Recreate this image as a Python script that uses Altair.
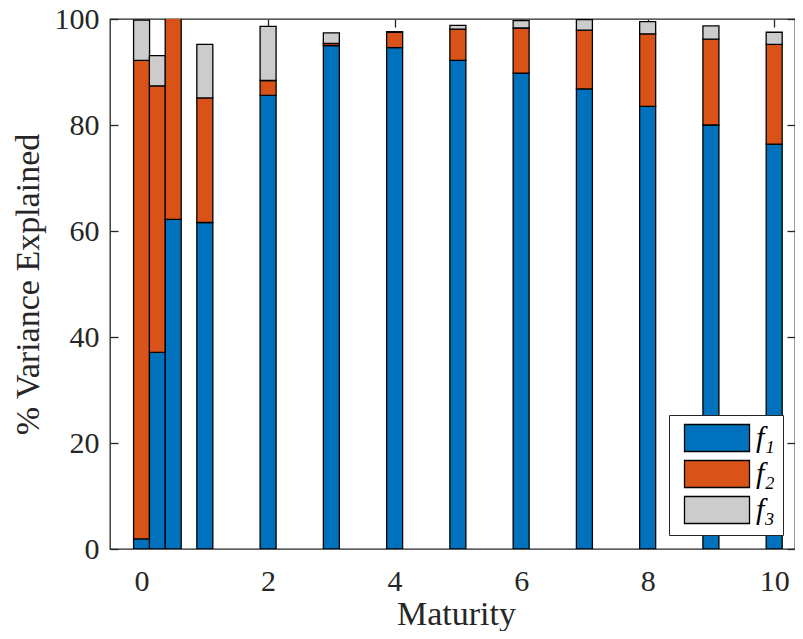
import altair as alt
import pandas as pd

maturity = [0, 0.25, 0.5, 1, 2, 3, 4, 5, 6, 7, 8, 9, 10]
f1 = [1.9, 37.1, 62.2, 61.6, 85.6, 95.0, 94.6, 92.2, 89.8, 86.8, 83.5, 80.0, 76.4]
f2 = [90.3, 50.3, 38.5, 23.5, 2.8, 0.4, 2.9, 5.9, 8.5, 11.1, 13.7, 16.2, 18.8]
f3 = [7.6, 5.7, 1.0, 10.1, 10.2, 2.0, 0.1, 0.7, 1.4, 2.0, 2.3, 2.5, 2.3]
factor_names = ["f\u2081", "f\u2082", "f\u2083"]
factor_colors = ["#0072BD", "#D95319", "#CCCCCC"]
x_ticks = [0, 2, 4, 6, 8, 10]
y_ticks = [0, 20, 40, 60, 80, 100]

rows = []
for i, m in enumerate(maturity):
    for o, (name, vals) in enumerate(zip(factor_names, (f1, f2, f3))):
        rows.append({"maturity": m, "factor": name, "value": vals[i], "order": o})
df = pd.DataFrame(rows)

W, H = 685, 530
FONT = "Liberation Serif"
AX = "#262626"

xscale = alt.Scale(domain=[-0.42, 10.25], nice=False, zero=False)
yscale = alt.Scale(domain=[0, 100], nice=False)

bars = alt.Chart(df).mark_bar(size=16, stroke="black", strokeWidth=1.3, clip=True, opacity=1).encode(
    x=alt.X("maturity:Q", scale=xscale,
            axis=alt.Axis(orient="bottom", values=x_ticks, ticks=False, domain=False, grid=False,
                          labelPadding=17, labelFontSize=30, labelFont=FONT, labelColor=AX,
                          title="Maturity", titleFont=FONT, titleFontSize=34, titleFontWeight="normal",
                          titleColor=AX, titleX=456 - 110, titleY=75, titleBaseline="alphabetic",
                          titleAlign="center")),
    y=alt.Y("value:Q", scale=yscale, stack="zero",
            axis=alt.Axis(orient="left", values=y_ticks, ticks=False, domain=False, grid=False,
                          labelPadding=11, labelFontSize=30, labelFont=FONT, labelColor=AX,
                          labelBaseline="middle",
                          title="% Variance Explained", titleFont=FONT, titleFontSize=34,
                          titleFontWeight="normal", titleColor=AX, titleAngle=-90,
                          titleX=-82, titleY=H / 2, titleAlign="center", titleBaseline="middle")),
    color=alt.Color("factor:N",
                    scale=alt.Scale(domain=factor_names, range=factor_colors),
                    legend=alt.Legend(title=None, orient="none", legendX=559, legendY=396,
                                      symbolType="M-2.5,-1.04H2.5V1.04H-2.5Z", symbolSize=676,
                                      symbolOffset=25,
                                      symbolStrokeColor="black", symbolStrokeWidth=1.3,
                                      symbolOpacity=1,
                                      labelFont=FONT, labelFontSize=30, labelFontStyle="italic",
                                      labelColor="black", labelOffset=24,
                                      fillColor="white", strokeColor=AX,
                                      padding=8, rowPadding=2)),
    order=alt.Order("order:Q"),
)

def tick_axis_x(orient, offset):
    return alt.Axis(orient=orient, offset=offset, values=x_ticks, labels=False, domain=False,
                    grid=False, ticks=True, tickSize=8, tickColor=AX, tickWidth=1.3, title=None)

def tick_axis_y(orient, offset):
    return alt.Axis(orient=orient, offset=offset, values=y_ticks, labels=False, domain=False,
                    grid=False, ticks=True, tickSize=8, tickColor=AX, tickWidth=1.3, title=None)

ticks_a = alt.Chart(df).mark_point(opacity=0).encode(
    x=alt.X("maturity:Q", scale=xscale, axis=tick_axis_x("top", -H)),
    y=alt.Y("value:Q", scale=yscale, axis=tick_axis_y("right", -W)),
)
ticks_b = alt.Chart(df).mark_point(opacity=0).encode(
    x=alt.X("maturity:Q", scale=xscale, axis=tick_axis_x("bottom", -H)),
    y=alt.Y("value:Q", scale=yscale, axis=tick_axis_y("left", -W)),
)

chart = alt.layer(bars, ticks_a, ticks_b).resolve_axis(
    x="independent", y="independent"
).properties(
    width=W, height=H, autosize="none",
    padding={"left": 102, "top": 11, "right": 0, "bottom": 82},
).configure_view(stroke=AX, strokeWidth=1.3)

chart.save("out.html", embed_options={"renderer": "svg", "actions": False})
